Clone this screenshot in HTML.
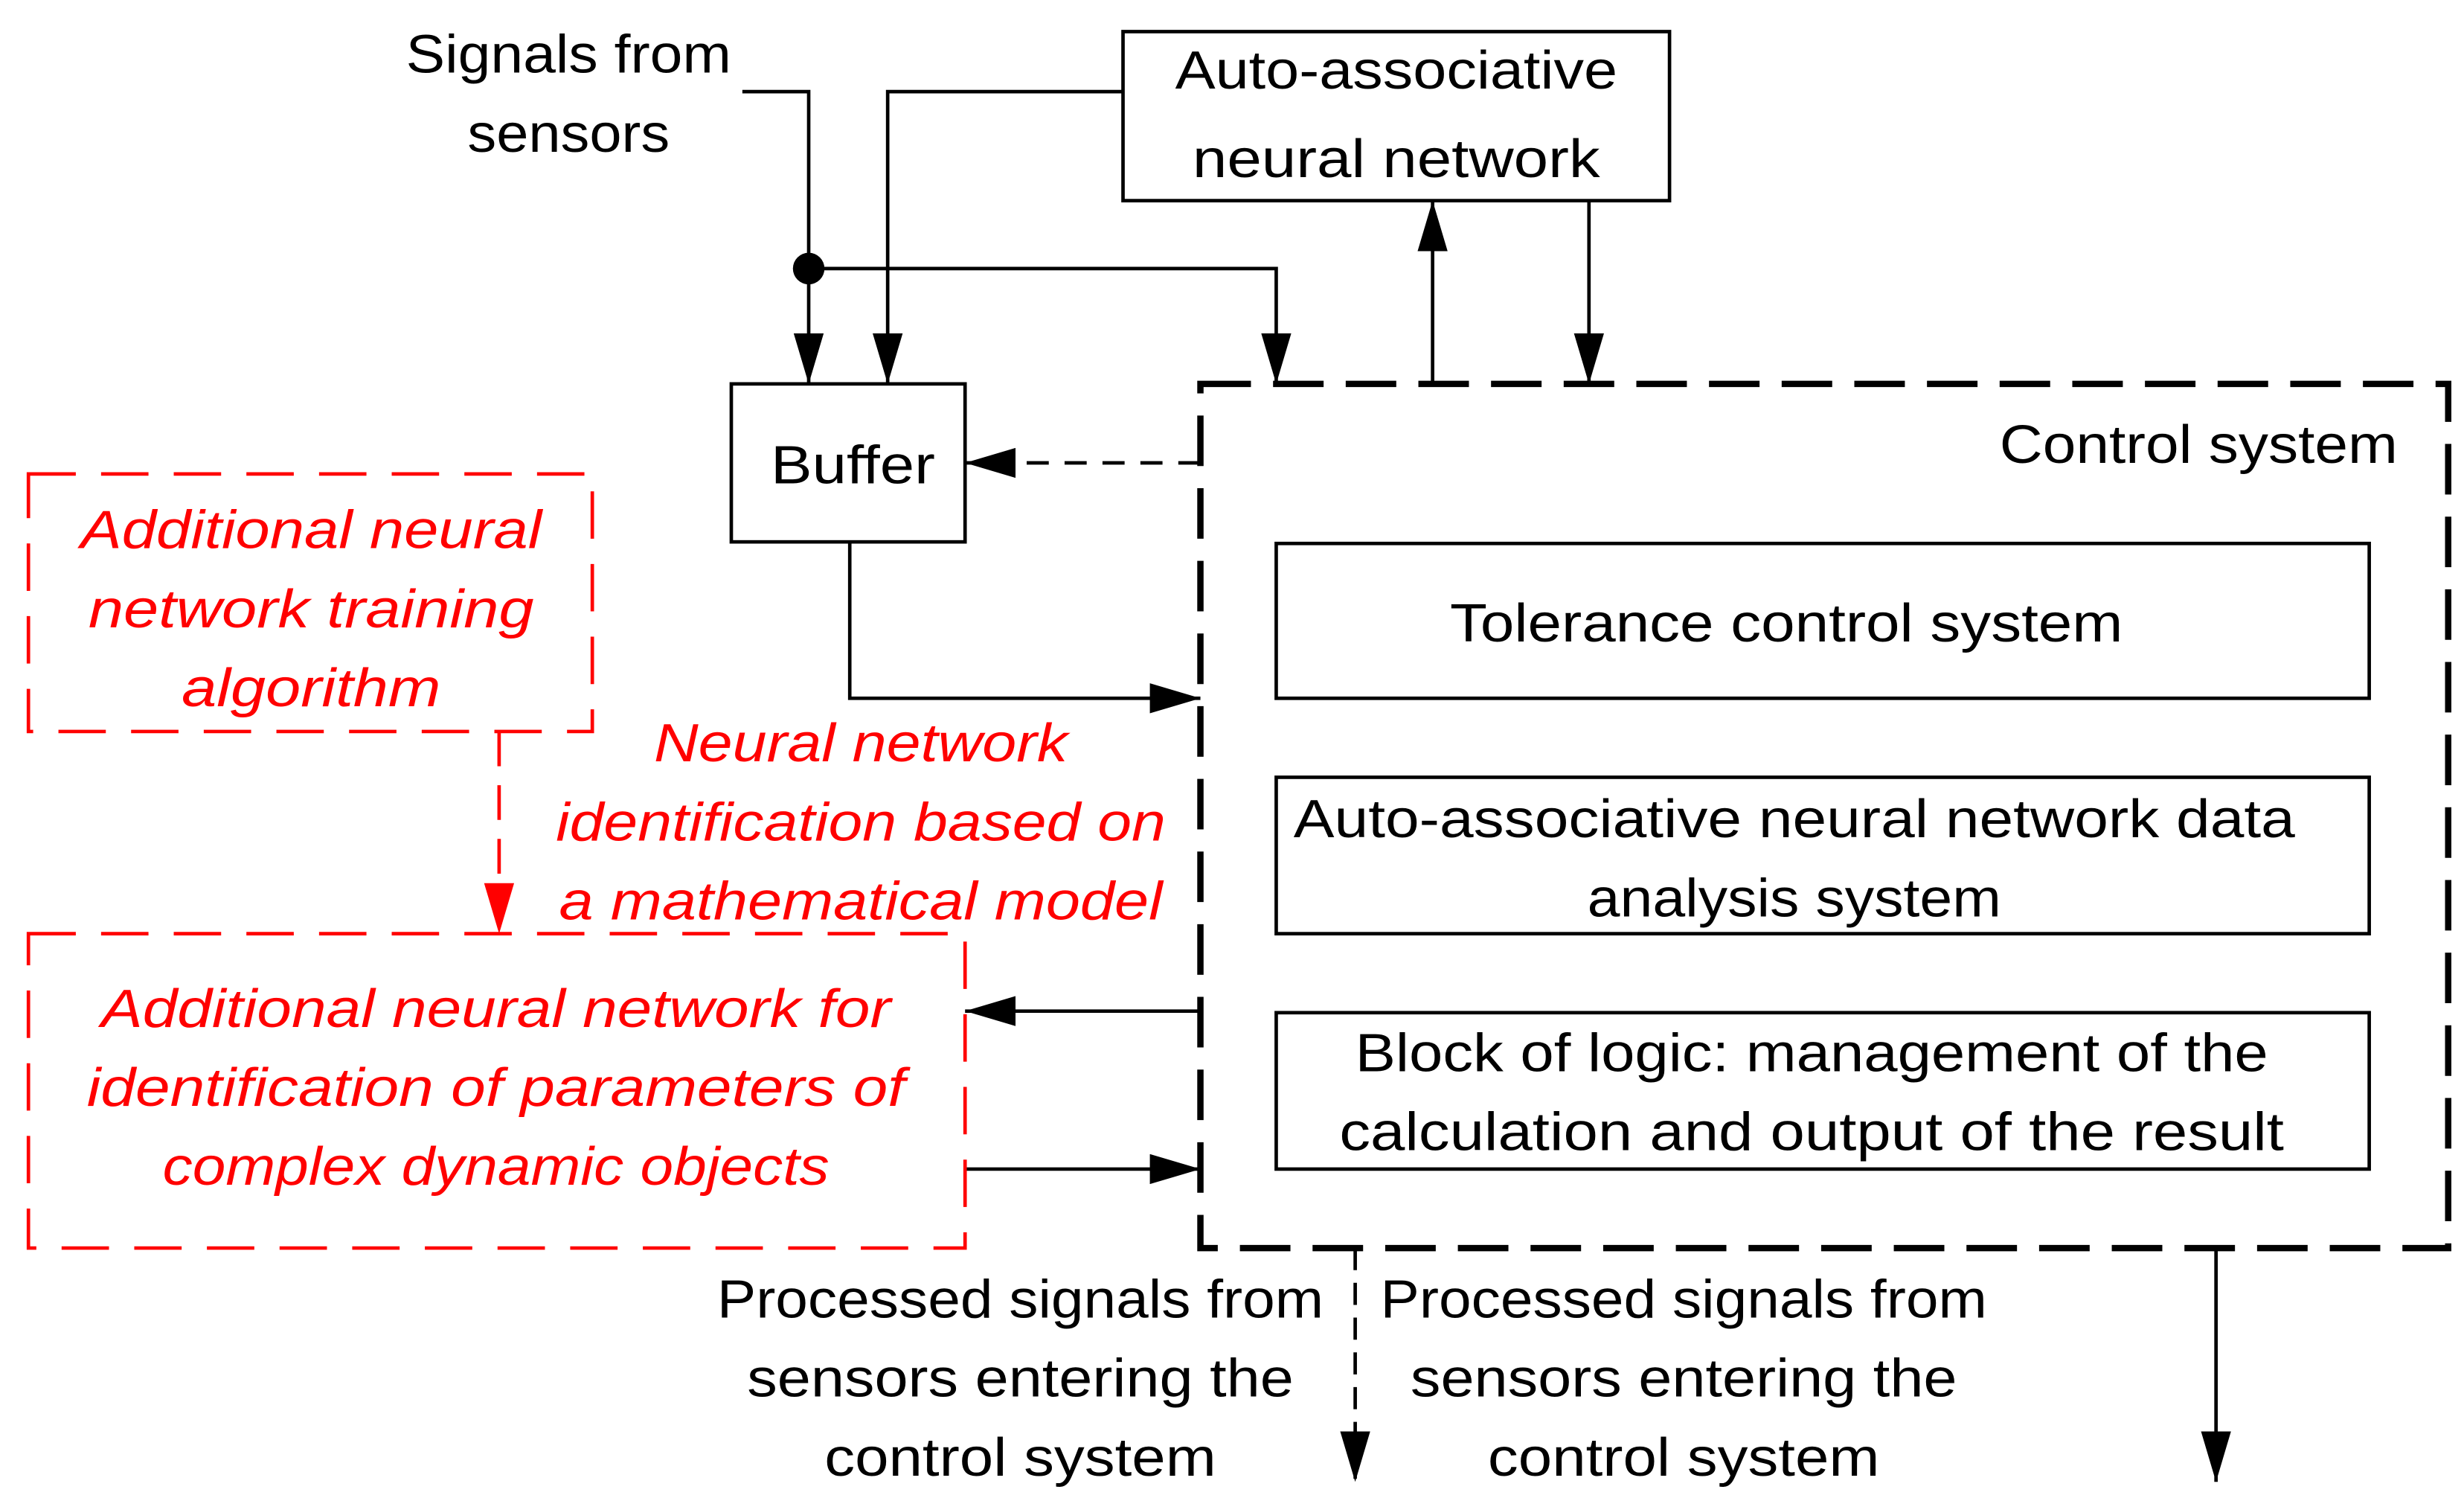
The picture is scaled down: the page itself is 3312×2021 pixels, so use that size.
<!DOCTYPE html>
<html><head><meta charset="utf-8"><style>html,body{margin:0;padding:0;background:#fff}svg{display:block}</style></head>
<body>
<svg width="3312" height="2021" viewBox="0 0 1560 952" preserveAspectRatio="none" xmlns="http://www.w3.org/2000/svg" font-family="Liberation Sans, sans-serif" font-size="34">
<defs>
<marker id="ab" viewBox="0 0 10 10" refX="10" refY="5" markerWidth="32" markerHeight="19" markerUnits="userSpaceOnUse" orient="auto" preserveAspectRatio="none"><path d="M0,0 L10,5 L0,10z" fill="#000"/></marker>
<marker id="ar" viewBox="0 0 10 10" refX="10" refY="5" markerWidth="32" markerHeight="19" markerUnits="userSpaceOnUse" orient="auto" preserveAspectRatio="none"><path d="M0,0 L10,5 L0,10z" fill="#f00"/></marker>
</defs>
<g fill="none" stroke="#000" stroke-width="2.2">
<rect x="711" y="20" width="346" height="107"/>
<rect x="463" y="243" width="148" height="100"/>
<rect x="808" y="344" width="692" height="98"/>
<rect x="808" y="492" width="692" height="99"/>
<rect x="808" y="641" width="692" height="99"/>
<polyline points="470,58 512,58 512,243" marker-end="url(#ab)"/>
<polyline points="711,58 562,58 562,243" marker-end="url(#ab)"/>
<polyline points="512,170 808,170 808,243" marker-end="url(#ab)"/>
<line x1="907" y1="243" x2="907" y2="127" marker-end="url(#ab)"/>
<line x1="1006" y1="127" x2="1006" y2="243" marker-end="url(#ab)"/>
<polyline points="538,343 538,442 760,442" marker-end="url(#ab)"/>
<line x1="760" y1="293" x2="611" y2="293" stroke-dasharray="14,10" marker-end="url(#ab)"/>
<line x1="760" y1="640" x2="611" y2="640" marker-end="url(#ab)"/>
<line x1="611" y1="740" x2="760" y2="740" marker-end="url(#ab)"/>
<line x1="858" y1="790" x2="858" y2="938" stroke-dasharray="14,8" marker-end="url(#ab)"/>
<line x1="1403" y1="790" x2="1403" y2="938" marker-end="url(#ab)"/>
<rect x="760" y="243" width="790" height="547" stroke-width="4" stroke-dasharray="32,14"/>
</g>
<circle cx="512" cy="170" r="10" fill="#000"/>
<g fill="none" stroke="#f00" stroke-width="2.2" stroke-dasharray="30,16">
<rect x="18" y="300" width="357" height="163"/>
<rect x="18" y="591" width="593" height="199"/>
<line x1="316" y1="463" x2="316" y2="591" stroke-dasharray="22,12" marker-end="url(#ar)"/>
</g>
<g text-anchor="middle" fill="#000">
<text x="360" y="46" textLength="206" lengthAdjust="spacingAndGlyphs">Signals from</text>
<text x="360" y="96" textLength="128" lengthAdjust="spacingAndGlyphs">sensors</text>
<text x="884" y="56" textLength="280" lengthAdjust="spacingAndGlyphs">Auto-associative</text>
<text x="884" y="112" textLength="258" lengthAdjust="spacingAndGlyphs">neural network</text>
<text x="540" y="306" textLength="104" lengthAdjust="spacingAndGlyphs">Buffer</text>
<text x="1392" y="293" textLength="252" lengthAdjust="spacingAndGlyphs">Control system</text>
<text x="1131" y="406" textLength="426" lengthAdjust="spacingAndGlyphs">Tolerance control system</text>
<text x="1136" y="530" textLength="634" lengthAdjust="spacingAndGlyphs">Auto-associative neural network data</text>
<text x="1136" y="580" textLength="262" lengthAdjust="spacingAndGlyphs">analysis system</text>
<text x="1147" y="678" textLength="578" lengthAdjust="spacingAndGlyphs">Block of logic: management of the</text>
<text x="1147" y="728" textLength="598" lengthAdjust="spacingAndGlyphs">calculation and output of the result</text>
<text x="646" y="834" textLength="384" lengthAdjust="spacingAndGlyphs">Processed signals from</text>
<text x="646" y="884" textLength="346" lengthAdjust="spacingAndGlyphs">sensors entering the</text>
<text x="646" y="934" textLength="248" lengthAdjust="spacingAndGlyphs">control system</text>
<text x="1066" y="834" textLength="384" lengthAdjust="spacingAndGlyphs">Processed signals from</text>
<text x="1066" y="884" textLength="346" lengthAdjust="spacingAndGlyphs">sensors entering the</text>
<text x="1066" y="934" textLength="248" lengthAdjust="spacingAndGlyphs">control system</text>
</g>
<g text-anchor="middle" fill="#f00" font-style="italic">
<text x="197" y="347" textLength="292" lengthAdjust="spacingAndGlyphs">Additional neural</text>
<text x="197" y="397" textLength="282" lengthAdjust="spacingAndGlyphs">network training</text>
<text x="197" y="447" textLength="164" lengthAdjust="spacingAndGlyphs">algorithm</text>
<text x="545" y="482" textLength="262" lengthAdjust="spacingAndGlyphs">Neural network</text>
<text x="545" y="532" textLength="386" lengthAdjust="spacingAndGlyphs">identification based on</text>
<text x="545" y="582" textLength="382" lengthAdjust="spacingAndGlyphs">a mathematical model</text>
<text x="314" y="650" textLength="500" lengthAdjust="spacingAndGlyphs">Additional neural network for</text>
<text x="314" y="700" textLength="518" lengthAdjust="spacingAndGlyphs">identification of parameters of</text>
<text x="314" y="750" textLength="422" lengthAdjust="spacingAndGlyphs">complex dynamic objects</text>
</g>
</svg>
</body></html>
